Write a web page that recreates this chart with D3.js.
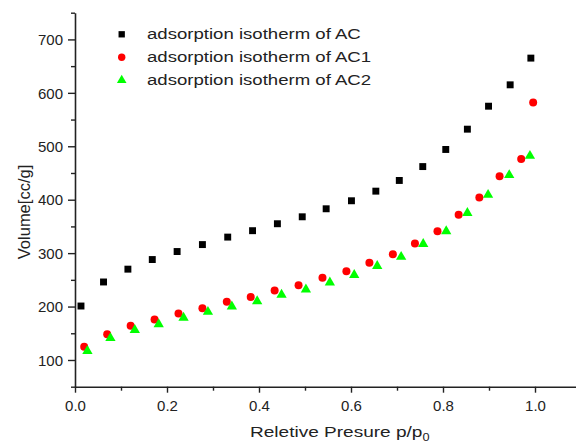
<!DOCTYPE html>
<html><head><meta charset="utf-8">
<script src="https://cdn.jsdelivr.net/npm/d3@7"></script>
<style>body{margin:0;background:#fff}svg{display:block}</style>
</head><body>
<script>
// Data
const xAC  = [0.013,0.062,0.115,0.168,0.222,0.277,0.332,0.386,0.440,0.494,0.546,0.601,0.654,0.705,0.756,0.806,0.853,0.899,0.946,0.991];
const yAC  = [201,246,270,288,303,316,330,342,355,368,383,398,416,436,462,494,532,575,615,665];
const xAC1 = [0.020,0.070,0.121,0.173,0.225,0.277,0.330,0.382,0.434,0.486,0.538,0.590,0.640,0.691,0.739,0.788,0.834,0.879,0.923,0.970,0.996];
const yAC1 = [125,148,164,176,187,197,209,218,230,240,254,266,282,298,318,341,372,404,444,476,582];
const xAC2 = [0.027,0.077,0.130,0.182,0.236,0.289,0.341,0.396,0.449,0.502,0.554,0.607,0.657,0.709,0.757,0.807,0.853,0.898,0.944,0.989];
const yAC2 = [117,141,156,167,179,190,200,210,222,232,245,259,276,293,317,341,375,409,446,482];
const seriesNames = ["adsorption isotherm of AC","adsorption isotherm of AC1","adsorption isotherm of AC2"];
const xMajor = [0,0.2,0.4,0.6,0.8,1.0];
const xMinor = [0.1,0.3,0.5,0.7,0.9];
const yMajor = [100,200,300,400,500,600,700];
const yMinor = [50,150,250,350,450,550,650,750];

const W=576,H=443;
const svg=d3.select("body").append("svg").attr("width",W).attr("height",H);
const x=d3.scaleLinear().domain([0,1.1]).range([75,581]);
const y=d3.scaleLinear().domain([50,750]).range([386.7,12.7]);
const axisColor="#222", font="'Liberation Sans', Arial, sans-serif";

// x axis
const gx=svg.append("g").attr("transform",`translate(0,${y(50)})`);
gx.call(d3.axisBottom(x).tickValues(xMajor).tickSize(6).tickSizeOuter(0).tickFormat(d3.format(".1f")));
const gxm=svg.append("g").attr("transform",`translate(0,${y(50)})`);
gxm.call(d3.axisBottom(x).tickValues(xMinor).tickSize(4).tickSizeOuter(0).tickFormat(""));
gxm.select(".domain").remove();
// y axis
const gy=svg.append("g").attr("transform",`translate(${x(0)},0)`);
gy.call(d3.axisLeft(y).tickValues(yMajor).tickSize(7).tickSizeOuter(0).tickFormat(d3.format("d")));
const gym=svg.append("g").attr("transform",`translate(${x(0)},0)`);
gym.call(d3.axisLeft(y).tickValues(yMinor).tickSize(4).tickSizeOuter(0).tickFormat(""));
gym.select(".domain").remove();

svg.selectAll(".domain").attr("stroke",axisColor).attr("stroke-width",1.6);
svg.selectAll(".tick line").attr("stroke",axisColor).attr("stroke-width",1.4);
svg.selectAll(".tick text").attr("fill","#222").style("font-family",font).style("font-size","15px");
gx.selectAll(".tick text").attr("dy","0").attr("y",24.5);
gy.selectAll(".tick text").attr("x",-12).attr("dy","0.35em");

// axis titles
svg.append("text").attr("transform","translate(30,212) rotate(-90)").attr("text-anchor","middle")
  .style("font-family",font).style("font-size","16.5px").attr("fill","#222").text("Volume[cc/g]");
const xt=svg.append("text").attr("transform","translate(250,436.5) scale(1.27,1)")
  .style("font-family",font).style("font-size","15px").attr("fill","#222");
xt.append("tspan").text("Reletive Presure p/p");
xt.append("tspan").attr("dy",4).style("font-size","10px").text("0");

// markers
const sq=d3.symbol().type(d3.symbolSquare).size(48);
const tri=d3.symbol().type(d3.symbolTriangle).size(46);
const ac=xAC.map((v,i)=>[v,yAC[i]]), ac1=xAC1.map((v,i)=>[v,yAC1[i]]), ac2=xAC2.map((v,i)=>[v,yAC2[i]]);
svg.append("g").selectAll("path").data(ac).join("path").attr("d",sq)
  .attr("transform",d=>`translate(${x(d[0])},${y(d[1])})`).attr("fill","#000");
svg.append("g").selectAll("circle").data(ac1).join("circle")
  .attr("cx",d=>x(d[0])).attr("cy",d=>y(d[1])).attr("r",4).attr("fill","#ff0000");
svg.append("g").selectAll("path").data(ac2).join("path").attr("d",tri)
  .attr("transform",d=>`translate(${x(d[0])},${y(d[1])})`).attr("fill","#00ff00");

// legend
const lg=svg.append("g");
[0,1,2].forEach(i=>{
  const cy=34.3+i*23;
  if(i===0) lg.append("path").attr("d",d3.symbol().type(d3.symbolSquare).size(40)).attr("transform",`translate(121.7,${cy})`).attr("fill","#000");
  if(i===1) lg.append("circle").attr("cx",121.7).attr("cy",cy).attr("r",3.7).attr("fill","#ff0000");
  if(i===2) lg.append("path").attr("d",d3.symbol().type(d3.symbolTriangle).size(40)).attr("transform",`translate(121.7,${cy})`).attr("fill","#00ff00");
  lg.append("text").attr("transform",`translate(147,${cy+5}) scale(1.24,1)`)
    .style("font-family",font).style("font-size","15px").attr("fill","#222").text(seriesNames[i]);
});
</script>
</body></html>
